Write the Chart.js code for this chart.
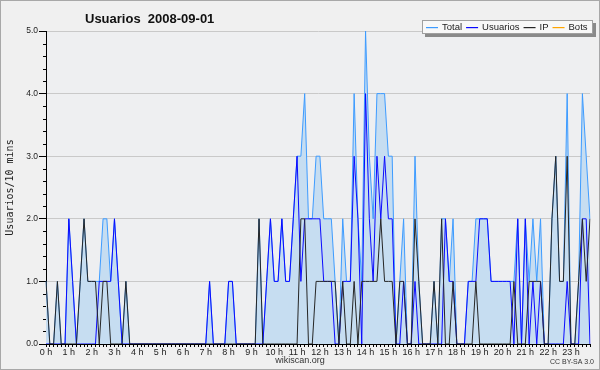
<!DOCTYPE html>
<html><head><meta charset="utf-8">
<script src="https://cdn.jsdelivr.net/npm/chart.js@4/dist/chart.umd.min.js"></script>
<style>html,body{margin:0;padding:0;background:#f0f0f0}canvas{display:block}</style>
</head><body>
<canvas id="c" width="600" height="370"></canvas>
<script>
const chartTitle = 'Usuarios  2008-09-01';
const yAxisTitle = 'Usuarios/10 mins';
const footerText = 'wikiscan.org';
const licenseText = 'CC BY-SA 3.0';
const hourLabels = ['0 h','1 h','2 h','3 h','4 h','5 h','6 h','7 h','8 h','9 h','10 h','11 h','12 h','13 h','14 h','15 h','16 h','17 h','18 h','19 h','20 h','21 h','22 h','23 h'];
const slots = [
'00:00','00:10','00:20','00:30','00:40','00:50','01:00','01:10','01:20','01:30','01:40','01:50',
'02:00','02:10','02:20','02:30','02:40','02:50','03:00','03:10','03:20','03:30','03:40','03:50',
'04:00','04:10','04:20','04:30','04:40','04:50','05:00','05:10','05:20','05:30','05:40','05:50',
'06:00','06:10','06:20','06:30','06:40','06:50','07:00','07:10','07:20','07:30','07:40','07:50',
'08:00','08:10','08:20','08:30','08:40','08:50','09:00','09:10','09:20','09:30','09:40','09:50',
'10:00','10:10','10:20','10:30','10:40','10:50','11:00','11:10','11:20','11:30','11:40','11:50',
'12:00','12:10','12:20','12:30','12:40','12:50','13:00','13:10','13:20','13:30','13:40','13:50',
'14:00','14:10','14:20','14:30','14:40','14:50','15:00','15:10','15:20','15:30','15:40','15:50',
'16:00','16:10','16:20','16:30','16:40','16:50','17:00','17:10','17:20','17:30','17:40','17:50',
'18:00','18:10','18:20','18:30','18:40','18:50','19:00','19:10','19:20','19:30','19:40','19:50',
'20:00','20:10','20:20','20:30','20:40','20:50','21:00','21:10','21:20','21:30','21:40','21:50',
'22:00','22:10','22:20','22:30','22:40','22:50','23:00','23:10','23:20','23:30','23:40','23:50'];
const total = [
1,0,0,1,0,0, 2,1,0,1,2,1, 1,1,1,2,2,1, 2,1,0,1,0,0,
0,0,0,0,0,0, 0,0,0,0,0,0, 0,0,0,0,0,0, 0,1,0,0,0,0,
1,1,0,0,0,0, 0,0,2,0,1,2, 1,1,2,1,1,2, 3,3,4,2,2,3,
3,2,2,2,1,0, 2,1,1,4,2,1, 5,3,2,4,4,4, 3,3,0,1,2,0,
0,3,1,0,0,0, 1,0,2,2,1,2, 0,0,0,1,1,2, 2,2,2,1,1,1,
1,1,1,1,2,0, 2,1,2,1,2,0, 0,2,3,1,1,4, 0,0,1,4,3,2];
const usuarios = [
0,0,0,0,0,0, 2,1,0,0,0,0, 0,0,1,1,1,1, 2,1,0,0,0,0,
0,0,0,0,0,0, 0,0,0,0,0,0, 0,0,0,0,0,0, 0,1,0,0,0,0,
1,1,0,0,0,0, 0,0,0,0,1,2, 1,1,2,1,1,2, 3,1,2,2,2,2,
2,1,1,1,0,0, 1,1,1,3,2,0, 4,2,1,3,2,3, 2,2,0,0,1,0,
0,1,0,0,0,0, 0,0,0,2,1,1, 0,0,0,1,1,1, 2,2,2,1,1,1,
1,1,1,0,2,0, 2,0,1,0,1,0, 0,0,0,0,0,1, 0,0,0,2,2,0];
const ip = [
1,0,0,1,0,0, 0,0,0,1,2,1, 1,1,0,1,1,0, 0,0,0,1,0,0,
0,0,0,0,0,0, 0,0,0,0,0,0, 0,0,0,0,0,0, 0,0,0,0,0,0,
0,0,0,0,0,0, 0,0,2,0,0,0, 0,0,0,0,0,0, 0,2,2,0,0,1,
1,1,1,1,1,0, 1,0,0,1,0,1, 1,1,1,1,2,1, 1,1,0,1,1,0,
0,2,1,0,0,0, 1,0,2,0,0,1, 0,0,0,0,0,1, 0,0,0,0,0,0,
0,0,0,1,0,0, 0,1,1,1,1,0, 0,2,3,1,1,3, 0,0,1,2,1,2];
const bots = [
0,0,0,0,0,0, 0,0,0,0,0,0, 0,0,0,0,0,0, 0,0,0,0,0,0,
0,0,0,0,0,0, 0,0,0,0,0,0, 0,0,0,0,0,0, 0,0,0,0,0,0,
0,0,0,0,0,0, 0,0,0,0,0,0, 0,0,0,0,0,0, 0,0,0,0,0,0,
0,0,0,0,0,0, 0,0,0,0,0,0, 0,0,0,0,0,0, 0,0,0,0,0,0,
0,0,0,0,0,0, 0,0,0,0,0,0, 0,0,0,0,0,0, 0,0,0,0,0,0,
0,0,0,0,0,0, 0,0,0,0,0,0, 0,0,0,0,0,0, 0,0,0,0,0,0];

const isInt = v => Math.abs(v - Math.round(v)) < 1e-6;

const decor = {
  id: 'decor',
  beforeDraw(chart) {
    const {ctx, chartArea: a} = chart;
    ctx.save();
    ctx.fillStyle = '#f0f0f0';
    ctx.fillRect(0, 0, chart.width, chart.height);
    ctx.fillStyle = '#eeeff1';
    ctx.fillRect(a.left, a.top, a.right - a.left, a.bottom - a.top);
    ctx.restore();
  },
  afterDraw(chart) {
    const {ctx, chartArea: a} = chart;
    const ys = chart.scales.y;
    ctx.save();
    ctx.strokeStyle = '#000'; ctx.lineWidth = 1;
    ys.ticks.forEach(t => {
      if (!isInt(t.value)) {
        const py = Math.round(ys.getPixelForValue(t.value)) + 0.5;
        ctx.beginPath(); ctx.moveTo(a.left - 3, py); ctx.lineTo(a.left, py); ctx.stroke();
      }
    });
    ctx.fillStyle = '#111';
    ctx.font = 'bold 13px "Liberation Sans", Arial, sans-serif';
    ctx.textBaseline = 'alphabetic'; ctx.textAlign = 'left';
    ctx.fillText(chartTitle, 85, 23);
    // legend
    ctx.font = '9.5px "Liberation Sans", Arial, sans-serif';
    const lx = 422, ly = 20, lh = 14;
    let w = 4;
    chart.data.datasets.forEach(ds => { w += 16 + ctx.measureText(ds.label).width + 4; });
    const lw = Math.round(w + 1);
    ctx.fillStyle = '#8a8a8a';
    ctx.fillRect(lx + 3, ly + 3, lw, lh);
    ctx.fillStyle = '#f8f8f8';
    ctx.fillRect(lx, ly, lw, lh);
    ctx.strokeStyle = '#a0a0a0';
    ctx.strokeRect(lx + 0.5, ly + 0.5, lw - 1, lh - 1);
    ctx.textBaseline = 'middle';
    let x = lx + 4;
    const cy = ly + lh / 2;
    chart.data.datasets.forEach(ds => {
      ctx.fillStyle = ds.borderColor;
      ctx.fillRect(x, Math.round(cy), 12, 1.2);
      ctx.fillStyle = '#222';
      ctx.fillText(ds.label, x + 16, cy + 0.5);
      x += 16 + ctx.measureText(ds.label).width + 4;
    });
    ctx.fillStyle = '#333';
    ctx.font = '9px "Liberation Sans", Arial, sans-serif';
    ctx.textAlign = 'center'; ctx.textBaseline = 'middle';
    ctx.fillText(footerText, 300, 361);
    ctx.font = '7px "Liberation Sans", Arial, sans-serif';
    ctx.textAlign = 'right';
    ctx.fillText(licenseText, 594, 362);
    ctx.strokeStyle = '#a8a8a8'; ctx.lineWidth = 1;
    ctx.strokeRect(0.5, 0.5, chart.width - 1, chart.height - 1);
    ctx.restore();
  }
};

new Chart(document.getElementById('c'), {
  type: 'line',
  data: {
    labels: slots,
    datasets: [
      {label: 'Total', data: total, borderColor: '#3d9bff', backgroundColor: '#c6ddf1', fill: 'origin', borderWidth: 1, pointRadius: 0, tension: 0, order: 2},
      {label: 'Usuarios', data: usuarios, borderColor: '#0a0aff', borderWidth: 1, pointRadius: 0, tension: 0, fill: false, order: 1},
      {label: 'IP', data: ip, borderColor: '#262626', borderWidth: 1, pointRadius: 0, tension: 0, fill: false, order: 0},
      {label: 'Bots', data: bots, borderColor: '#ffa500', borderWidth: 1, pointRadius: 0, tension: 0, fill: false, order: 3}
    ]
  },
  options: {
    responsive: false,
    animation: false,
    devicePixelRatio: 1,
    layout: {padding: {top: 31, right: 10, left: 0, bottom: 0}},
    plugins: {legend: {display: false}, tooltip: {enabled: false}, title: {display: false}},
    scales: {
      x: {
        z: 1,
        offset: false,
        border: {display: true, color: '#000', width: 1},
        grid: {drawOnChartArea: false, drawTicks: true, tickLength: 3, tickColor: '#000'},
        ticks: {
          autoSkip: false, maxRotation: 0, minRotation: 0, padding: 0,
          color: '#222', font: {family: '"Liberation Sans", Arial, sans-serif', size: 9},
          callback: (v, i) => (i % 6 === 0 ? hourLabels[i / 6] : '')
        },
        afterFit: s => { s.height = 26; }
      },
      y: {
        min: 0, max: 5,
        border: {display: true, color: '#000', width: 1},
        grid: {
          color: c => (c.tick && isInt(c.tick.value) && c.tick.value > 0 ? '#c9c9c9' : 'rgba(0,0,0,0)'),
          tickColor: c => (c.tick && isInt(c.tick.value) ? '#000' : 'rgba(0,0,0,0)'),
          tickLength: 7
        },
        ticks: {
          stepSize: 0.2, autoSkip: false, padding: 1,
          color: '#222', font: {family: '"Liberation Sans", Arial, sans-serif', size: 8.5},
          callback: v => (isInt(v) ? Number(v).toFixed(1) : '')
        },
        title: {display: true, text: yAxisTitle, color: '#222', font: {family: '"DejaVu Sans Mono", monospace', size: 10}, padding: {top: 4, bottom: 0}},
        afterFit: s => { s.width = 46; }
      }
    }
  },
  plugins: [decor]
});
</script>
</body></html>
